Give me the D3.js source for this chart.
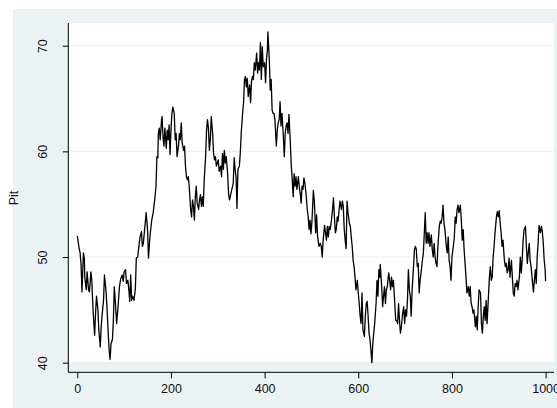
<!DOCTYPE html>
<html>
<head>
<meta charset="utf-8">
<script src="https://cdn.jsdelivr.net/npm/d3@7/dist/d3.min.js"></script>
<style>
  html, body { margin: 0; padding: 0; background: #ffffff; }
  svg { display: block; }
  text { font-family: "Liberation Sans", Arial, Helvetica, sans-serif; fill: #111; }
</style>
</head>
<body>
<svg id="chart" width="557" height="408"></svg>
<script>
// Observation index and the Pit series
const obs = [
  0,4,6,8,10,13,15,16,19,21,24,26,29,31,32,34,37,39,41,44,46,49,51,53,56,58,61,63,66,68,70,72,75,77,79,81,84,87,90,93,96,98,100,103,105,108,110,112,114,116,118,121,124,126,129,132,
  134,137,139,141,145,147,150,152,155,159,162,166,168,170,172,173,175,177,180,181,183,185,187,190,192,194,196,198,200,202,204,207,209,211,213,216,218,220,222,224,227,229,231,233,235,237,239,242,244,246,248,250,252,254,256,259,261,263,265,267,269,271,274,276,278,280,282,284,286,289,291,293,295,297,299,301,303,306,308,310,312,314,316,318,321,323,325,
  330,333,335,337,339,341,343,346,348,350,353,355,357,359,361,363,365,368,370,372,374,376,378,380,383,385,387,389,391,393,395,397,400,402,404,406,407,410,412,414,416,418,420,422,425,427,429,431,433,435,437,440,442,444,446,448,450,452,454,457,459,461,463,465,467,469,472,474,476,478,480,482,484,486,489,491,493,
  495,497,499,501,504,506,509,511,513,516,
  519,521,523,525,528,530,532,534,536,538,540,542,545,547,549,551,553,555,557,559,561,564,566,568,570,572,574,576,578,581,583,585,587,589,591,593,595,598,600,602,604,606,608,610,613,615,617,619,621,623,625,627,629,631,633,635,638,640,642,644,646,647,650,652,654,656,658,660,662,665,667,669,671,673,675,677,680,682,684,686,688,690,692,694,697,699,701,703,705,707,709,
  711,713,715,718,720,722,724,726,728,730,732,734,737,739,741,743,745,747,749,751,753,756,758,760,762,764,766,768,770,773,775,777,779,781,783,785,788,790,792,794,796,798,800,802,805,807,809,811,813,815,818,820,822,824,826,828,830,832,835,837,839,841,843,845,847,850,852,854,856,858,
  861,863,865,867,869,871,873,875,878,880,882,884,886,888,890,892,895,897,899,901,903,905,907,909,912,914,916,918,920,922,924,927,929,931,933,935,937,939,941,944,946,948,950,952,954,957,959,961,963,965,967,969,971,974,976,978,980,982,984,986,989,991,993,995,997,999,1000
];
const pit = [
  52.0,50.8,50.4,49.3,46.7,50.4,49.9,48.1,46.9,48.6,46.9,46.7,48.6,47.8,46.6,44.7,42.6,44.7,46.3,45.0,43.1,41.5,43.4,44.5,45.9,48.3,46.9,45.6,42.8,41.2,40.3,41.8,42.2,44.0,47.2,45.9,43.7,45.3,47.2,48.0,48.3,47.7,48.6,48.8,47.5,47.8,46.9,45.8,48.3,45.9,46.3,45.9,47.0,49.9,50.0,51.2,
  51.9,52.4,51.0,51.3,53.2,54.2,52.6,49.9,51.9,53.5,54.2,55.7,56.7,59.5,59.4,61.7,62.2,61.1,63.0,63.3,61.4,60.5,62.2,60.3,62.0,61.1,62.5,59.7,62.0,63.6,64.2,63.6,61.1,61.7,59.5,60.5,61.7,61.1,62.7,60.8,60.1,60.5,58.6,57.6,57.3,57.6,56.7,54.5,53.8,55.4,54.8,53.5,55.7,56.7,55.1,54.5,55.4,55.9,54.8,55.7,54.8,57.3,59.5,62.0,63.0,62.2,60.1,61.1,63.3,61.7,59.8,59.2,59.5,58.6,58.9,59.2,58.1,58.6,57.6,59.8,58.3,60.1,58.9,59.5,57.9,56.0,55.4,
  56.4,57.0,59.4,58.3,57.6,54.6,58.3,58.6,59.8,61.7,63.6,64.6,66.8,67.1,66.1,66.9,65.2,66.3,64.6,66.6,67.1,66.8,68.4,67.7,69.3,67.4,68.4,67.7,70.3,66.8,69.9,68.0,68.4,66.5,68.7,69.6,71.3,68.7,65.8,66.8,63.9,63.6,63.6,63.0,60.5,62.0,62.7,63.0,64.7,62.4,63.6,61.4,59.5,61.7,62.4,62.7,61.7,63.5,61.7,58.6,57.3,55.7,57.9,56.7,57.6,56.4,57.6,56.7,56.0,55.1,56.7,56.4,57.5,57.0,55.7,54.5,53.8,
  52.6,53.5,52.2,53.3,56.3,55.4,52.3,54.0,52.0,51.0,
  51.3,51.0,50.0,51.6,53.0,52.3,51.6,52.9,51.9,52.9,52.6,53.2,54.5,55.6,53.8,52.3,52.6,53.8,53.4,54.5,55.3,54.5,55.3,54.8,52.6,51.6,50.8,55.3,54.2,53.2,52.9,51.9,51.0,49.7,49.1,48.1,46.9,47.8,46.6,45.6,44.4,43.7,46.6,43.1,42.5,44.4,45.6,45.8,44.4,42.8,42.2,41.2,40.0,41.8,42.8,43.7,45.6,47.8,46.3,48.8,48.1,49.3,47.2,45.3,46.3,47.2,45.6,46.9,47.2,48.5,47.8,46.9,48.1,47.2,47.8,46.3,44.0,44.0,43.7,45.6,44.0,42.8,43.4,44.4,45.3,43.7,45.0,44.4,45.9,48.8,46.9,
  46.3,44.4,46.9,49.1,50.7,51.0,50.7,49.1,49.4,46.6,47.8,48.5,49.7,50.4,52.3,54.2,51.3,52.3,51.3,52.3,51.0,52.1,50.7,50.0,51.3,50.0,49.4,49.1,51.0,52.9,53.4,53.2,53.8,54.9,53.2,52.6,51.0,50.4,51.9,49.7,49.1,47.8,50.0,50.7,51.8,53.8,53.2,54.5,54.9,54.2,54.9,53.5,51.6,52.6,50.7,49.4,48.1,46.6,47.2,46.3,47.2,45.6,45.3,44.7,45.0,43.4,44.4,43.1,45.3,46.9,
  46.6,43.7,42.8,44.4,45.3,44.0,45.9,43.7,46.3,48.1,49.1,47.8,48.1,50.0,51.0,52.3,53.8,54.3,53.8,54.4,53.2,52.3,51.0,51.6,49.7,49.1,49.4,48.5,48.8,49.9,48.1,49.7,48.1,46.6,46.3,47.5,47.2,47.8,46.9,48.1,50.0,48.5,49.7,51.6,52.6,52.9,51.0,49.4,50.4,51.3,49.7,49.1,48.1,46.7,47.8,48.8,47.5,50.0,51.3,53.0,52.3,52.9,52.4,51.3,49.7,48.8,47.7
];
const yTicks = [40, 50, 60, 70];
const xTicks = [0, 200, 400, 600, 800, 1000];
const yTitle = "Pit";

const svg = d3.select("#chart");
const W = 557, H = 408;

// Graph and plot regions
const outer = { x: 13, y: 9 };
const plot = { left: 68.5, top: 23, right: 554, bottom: 363 };
const axisX = 68.3, axisY = 372.3;

const x = d3.scaleLinear().domain([0, 1000]).range([77.3, 545.6]);
const y = d3.scaleLinear().domain([40, 70]).range([362.7, 45.7]);

svg.append("rect")
  .attr("x", outer.x).attr("y", outer.y)
  .attr("width", W - outer.x).attr("height", H - outer.y)
  .attr("fill", "#EAF2F3");

svg.append("rect")
  .attr("x", plot.left).attr("y", plot.top)
  .attr("width", plot.right - plot.left).attr("height", plot.bottom - plot.top)
  .attr("fill", "#ffffff");

// Horizontal grid lines
svg.append("g").selectAll("line")
  .data(yTicks)
  .join("line")
  .attr("x1", plot.left).attr("x2", plot.right)
  .attr("y1", d => y(d)).attr("y2", d => y(d))
  .attr("stroke", "#E4EEF0").attr("stroke-width", 1);

// Series line
const line = d3.line()
  .x((d, i) => x(obs[i]))
  .y(d => y(d));

svg.append("path")
  .datum(pit)
  .attr("d", line)
  .attr("fill", "none")
  .attr("stroke", "#000")
  .attr("stroke-width", 1.3)
  .attr("stroke-linejoin", "round");

// Axis lines
svg.append("line")
  .attr("x1", axisX).attr("x2", axisX)
  .attr("y1", plot.top).attr("y2", axisY)
  .attr("stroke", "#000").attr("stroke-width", 1);
svg.append("line")
  .attr("x1", axisX).attr("x2", plot.right)
  .attr("y1", axisY).attr("y2", axisY)
  .attr("stroke", "#000").attr("stroke-width", 1);

// Y axis ticks and rotated labels
const gy = svg.append("g")
  .attr("transform", `translate(${axisX},0)`)
  .call(d3.axisLeft(y).tickValues(yTicks).tickSize(5.5).tickSizeOuter(0).tickFormat(d3.format("d")));
gy.select(".domain").remove();
gy.selectAll(".tick line").attr("stroke", "#000");
gy.selectAll(".tick text")
  .attr("x", 0).attr("y", -21.8).attr("dy", null)
  .attr("transform", "rotate(-90)")
  .attr("text-anchor", "middle")
  .attr("font-size", 12.5)
  .attr("font-family", "Liberation Sans, Arial, sans-serif")
  .attr("fill", "#111");

// X axis ticks and labels
const gx = svg.append("g")
  .attr("transform", `translate(0,${axisY})`)
  .call(d3.axisBottom(x).tickValues(xTicks).tickSize(6).tickSizeOuter(0).tickFormat(d3.format("d")));
gx.select(".domain").remove();
gx.selectAll(".tick line").attr("stroke", "#000");
gx.selectAll(".tick text")
  .attr("y", 21.2).attr("dy", null)
  .attr("font-size", 12.5)
  .attr("font-family", "Liberation Sans, Arial, sans-serif")
  .attr("fill", "#111");

// Y axis title
svg.append("text")
  .attr("transform", `translate(18,198) rotate(-90)`)
  .attr("text-anchor", "middle")
  .attr("font-size", 12.5)
  .text(yTitle);
</script>
</body>
</html>
